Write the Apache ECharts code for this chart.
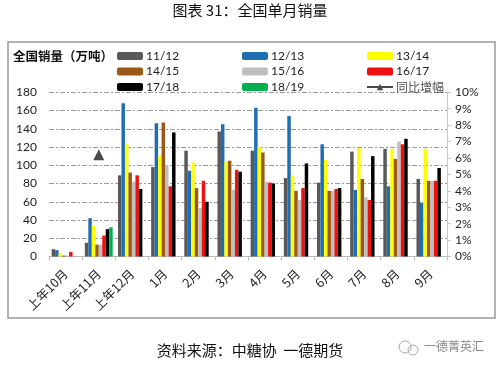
<!DOCTYPE html>
<html>
<head>
<meta charset="utf-8">
<script src="https://cdn.jsdelivr.net/npm/echarts@6/dist/echarts.min.js"></script>
<style>
html,body{margin:0;padding:0;background:#fff;}
#c{width:500px;height:369px;}
</style>
</head>
<body>
<div id="c"></div>
<script>
const categories = ['上年10月','上年11月','上年12月','1月','2月','3月','4月','5月','6月','7月','8月','9月'];
const seriesNames = ['11/12','12/13','13/14','14/15','15/16','16/17','17/18','18/19'];
const s1112 = [8, 15, 89, 98, 116, 137, 116, 86, 81, 115, 118, 85];
const s1213 = [7, 42, 168, 146, 94, 145, 163, 154, 123, 73, 77, 59];
const s1314 = [4, 34, 124, 111, 103, 104, 120, 89, 106, 119, 118, 118];
const s1415 = [1, 13, 92, 147, 75, 105, 114, 72, 72, 85, 107, 83];
const s1516 = [1, 13, 82, 100, 53, 73, 82, 62, 72, 65, 126, 83];
const s1617 = [5, 23, 89, 77, 83, 95, 81, 75, 74, 62, 123, 83];
const s1718 = [null, 30, 74, 136, 60, 93, 80, 102, 75, 110, 129, 97];
const s1819 = [null, 32, null, null, null, null, null, null, null, null, null, null];
const yoyName = '同比增幅';
const yoy = [null, 0.062, null, null, null, null, null, null, null, null, null, null];
const leftTicks = [0, 180, 20];
const rightTicks = [0, 0.10, 0.01];

const colors = ['#595959', '#1F6DB2', '#FFFF00', '#9A5716', '#BFBFBF', '#EE1111', '#000000', '#00B050'];
const values = [s1112, s1213, s1314, s1415, s1516, s1617, s1718, s1819];

const chart = echarts.init(document.getElementById('c'), null, {renderer: 'canvas'});
const numFont = 'Lato, "Noto Sans", sans-serif';
const cjkFont = '"Noto Sans CJK SC", sans-serif';
const gridDash = [5, 2, 2, 2];

const barSeries = seriesNames.map((n, i) => ({
  name: n, type: 'bar', data: values[i], yAxisIndex: 0,
  itemStyle: {color: colors[i]},
  barGap: '0%', barCategoryGap: '16%'
}));

const legendCommon = {
  orient: 'vertical', itemWidth: 26, itemHeight: 8, itemGap: 0.5,
  textStyle: {fontSize: 12, fontFamily: numFont, color: '#222', lineHeight: 15, padding: [0,0,0,-2]},
  selectedMode: false
};

chart.setOption({
  animation: false,
  backgroundColor: '#fff',
  textStyle: {fontFamily: numFont},
  graphic: [
    {type: 'rect', z: -10, shape: {x: 8, y: 42, width: 487, height: 276}, style: {fill: '#fff', stroke: '#9a9a9a', lineWidth: 1.5}},
    {type: 'text', left: 'center', top: 3, style: {text: '图表 31：全国单月销量', font: '15px "Noto Sans CJK SC"', fill: '#111'}},
    {type: 'text', left: 13, top: 50, style: {text: '全国销量（万吨）', font: 'bold 12.5px "Noto Sans CJK SC"', fill: '#111'}},
    {type: 'text', left: 'center', top: 343, style: {text: '资料来源：中糖协  一德期货', font: '15px "Noto Sans CJK SC"', fill: '#111'}},
    {type: 'circle', shape: {cx: 405, cy: 347, r: 6}, style: {fill: 'none', stroke: '#aaa', lineWidth: 1}},
    {type: 'circle', shape: {cx: 413, cy: 350, r: 5}, style: {fill: 'none', stroke: '#aaa', lineWidth: 1}},
    {type: 'text', left: 424, top: 340, style: {text: '一德菁英汇', font: '12px "Noto Sans CJK SC"', fill: '#888'}}
  ],
  legend: [
    Object.assign({left: 112, top: 43.5, data: ['11/12', '14/15', '17/18']}, legendCommon),
    Object.assign({left: 237, top: 43.5, data: ['12/13', '15/16', '18/19']}, legendCommon),
    Object.assign({left: 361, top: 43.5, data: ['13/14', '16/17', {name: yoyName, textStyle: {fontFamily: cjkFont, color: '#555'}}]}, legendCommon)
  ],
  grid: {left: 49, right: 53, top: 92.3, bottom: 112.5, containLabel: false},
  xAxis: {
    type: 'category', data: categories,
    axisLine: {show: true, lineStyle: {color: '#bbb', width: 1}},
    axisTick: {show: true, lineStyle: {color: '#bbb'}, length: 4},
    axisLabel: {rotate: 45, fontSize: 12.5, fontFamily: cjkFont, color: '#222', margin: 15, interval: 0}
  },
  yAxis: [
    {
      type: 'value', min: leftTicks[0], max: leftTicks[1], interval: leftTicks[2], position: 'left',
      axisLine: {show: false}, axisTick: {show: false},
      axisLabel: {fontSize: 12, color: '#222', margin: 12, fontFamily: numFont},
      splitLine: {show: true, lineStyle: {color: '#9a9a9a', type: gridDash, width: 1}}
    },
    {
      type: 'value', min: rightTicks[0], max: rightTicks[1], interval: rightTicks[2], position: 'right',
      axisLine: {show: true, lineStyle: {color: '#c8c8c8'}},
      axisTick: {show: true, length: 4, lineStyle: {color: '#c8c8c8'}},
      axisLabel: {fontSize: 12, color: '#222', margin: 8, fontFamily: numFont,
        formatter: v => Math.round(v * 100) + '%'},
      splitLine: {show: false}
    }
  ],
  series: barSeries.concat([{
    name: yoyName, type: 'line', yAxisIndex: 1, data: yoy,
    symbol: 'triangle', symbolSize: 11, showSymbol: true,
    itemStyle: {color: '#4a4a4a'}, lineStyle: {color: '#4a4a4a', width: 2},
    z: 5
  }])
});
</script>
</body>
</html>
